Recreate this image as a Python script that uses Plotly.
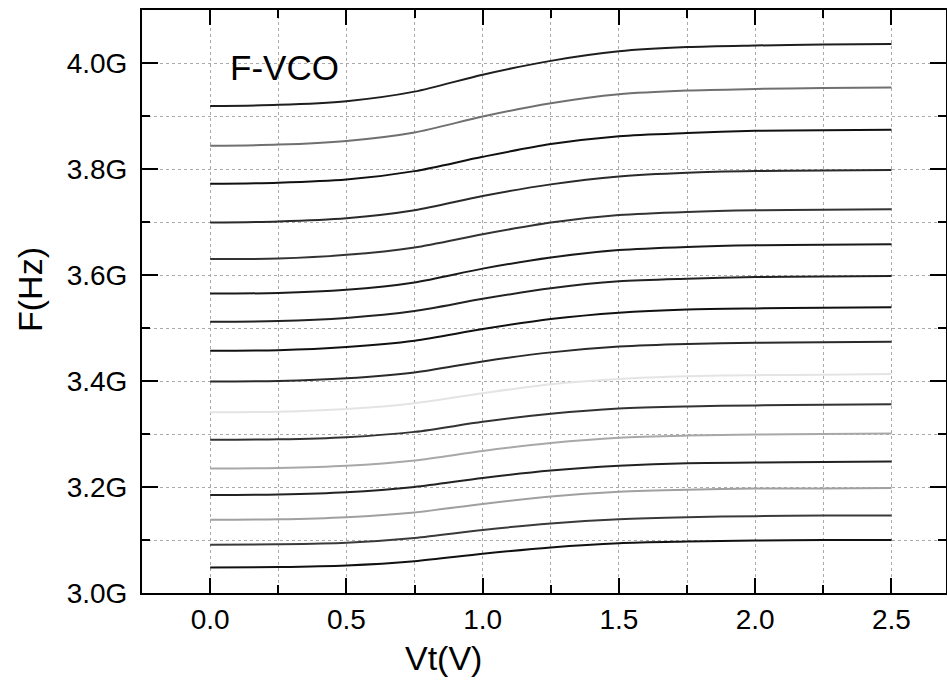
import plotly.graph_objects as go

vt = [0.0, 0.25, 0.5, 0.75, 1.0, 1.25, 1.5, 1.75, 2.0, 2.25, 2.5]

f01 = [3.919, 3.921, 3.928, 3.946, 3.978, 4.004, 4.022, 4.030, 4.033, 4.035, 4.036]
f02 = [3.844, 3.846, 3.853, 3.869, 3.899, 3.924, 3.941, 3.948, 3.951, 3.953, 3.954]
f03 = [3.772, 3.774, 3.780, 3.796, 3.823, 3.847, 3.862, 3.868, 3.872, 3.873, 3.874]
f04 = [3.699, 3.701, 3.707, 3.722, 3.749, 3.771, 3.786, 3.793, 3.796, 3.797, 3.798]
f05 = [3.630, 3.631, 3.638, 3.652, 3.677, 3.699, 3.713, 3.719, 3.722, 3.723, 3.724]
f06 = [3.565, 3.566, 3.572, 3.586, 3.612, 3.633, 3.647, 3.653, 3.656, 3.657, 3.658]
f07 = [3.512, 3.513, 3.519, 3.532, 3.555, 3.575, 3.588, 3.593, 3.596, 3.597, 3.598]
f08 = [3.457, 3.458, 3.464, 3.476, 3.498, 3.517, 3.529, 3.535, 3.537, 3.538, 3.539]
f09 = [3.399, 3.400, 3.405, 3.416, 3.437, 3.454, 3.465, 3.470, 3.472, 3.473, 3.474]
f10 = [3.341, 3.342, 3.347, 3.358, 3.377, 3.394, 3.404, 3.409, 3.411, 3.412, 3.413]
f11 = [3.289, 3.290, 3.294, 3.304, 3.323, 3.338, 3.348, 3.352, 3.354, 3.355, 3.356]
f12 = [3.235, 3.236, 3.240, 3.250, 3.268, 3.283, 3.293, 3.297, 3.299, 3.300, 3.301]
f13 = [3.185, 3.186, 3.190, 3.200, 3.217, 3.231, 3.240, 3.245, 3.246, 3.247, 3.248]
f14 = [3.138, 3.139, 3.143, 3.152, 3.168, 3.182, 3.191, 3.195, 3.197, 3.197, 3.198]
f15 = [3.091, 3.092, 3.095, 3.104, 3.119, 3.131, 3.139, 3.143, 3.145, 3.146, 3.146]
f16 = [3.048, 3.049, 3.052, 3.060, 3.074, 3.086, 3.094, 3.097, 3.099, 3.100, 3.100]

curves = [f01, f02, f03, f04, f05, f06, f07, f08, f09, f10, f11, f12, f13, f14, f15, f16]
colors = ['#1e1e1e', '#707070', '#111111', '#2a2a2a', '#333333', '#1a1a1a', '#222222', '#111111',
          '#2a2a2a', '#e4e4e4', '#333333', '#a8a8a8', '#222222', '#a0a0a0', '#3a3a3a', '#111111']

y_tickvals = [3.0, 3.2, 3.4, 3.6, 3.8, 4.0]
y_ticktext = ['3.0G', '3.2G', '3.4G', '3.6G', '3.8G', '4.0G']
x_tickvals = [0.0, 0.5, 1.0, 1.5, 2.0, 2.5]
x_ticktext = ['0.0', '0.5', '1.0', '1.5', '2.0', '2.5']

fig = go.Figure()
for ys, c in zip(curves, colors):
    fig.add_trace(go.Scatter(x=vt, y=ys, mode='lines',
                             line=dict(color=c, width=2, shape='spline', smoothing=0.8),
                             showlegend=False, hoverinfo='skip'))

font = 'Liberation Sans, Arial, sans-serif'
plot_w = 947 - 142 - 1
plot_h = 683 - 10 - 90

fig.update_layout(
    width=947, height=683, autosize=False,
    margin=dict(l=142, r=1, t=10, b=90, autoexpand=False),
    paper_bgcolor='white', plot_bgcolor='white',
    font=dict(family=font, color='black'),
    xaxis=dict(range=[-0.25, 2.7], tickvals=x_tickvals, ticktext=x_ticktext,
               ticks='inside', ticklen=15, tickwidth=2, tickcolor='black',
               showline=True, linecolor='black', linewidth=2, mirror='allticks',
               showgrid=True, gridcolor='#aaaaaa', griddash='dot', gridwidth=1,
               zeroline=False, tickfont=dict(size=28, family=font),
               ticklabelstandoff=0, automargin=False,
               minor=dict(dtick=0.25, tick0=0, ticks='inside', ticklen=8, tickwidth=2,
                          tickcolor='black', showgrid=True, gridcolor='#aaaaaa',
                          griddash='dot', gridwidth=1)),
    yaxis=dict(range=[3.0, 4.1], tickvals=y_tickvals, ticktext=y_ticktext,
               ticks='inside', ticklen=16, tickwidth=2, tickcolor='black',
               showline=True, linecolor='black', linewidth=2, mirror='allticks',
               showgrid=True, gridcolor='#aaaaaa', griddash='dot', gridwidth=1,
               zeroline=False, tickfont=dict(size=28, family=font),
               ticklabelstandoff=7, automargin=False,
               minor=dict(dtick=0.1, tick0=3.0, ticks='inside', ticklen=8, tickwidth=2,
                          tickcolor='black', showgrid=True, gridcolor='#aaaaaa',
                          griddash='dot', gridwidth=1)),
    annotations=[
        dict(x=0.066, y=3.991, xref='x', yref='y', text='F-VCO', showarrow=False,
             xanchor='left', yanchor='middle', font=dict(size=35, family=font)),
        dict(x=(443 - 142) / plot_w, y=-(658 - 593) / plot_h, xref='paper', yref='paper',
             text='Vt(V)', showarrow=False, xanchor='center', yanchor='middle',
             font=dict(size=34, family=font)),
        dict(x=-(142 - 30) / plot_w, y=(593 - 290) / plot_h, xref='paper', yref='paper',
             text='F(Hz)', showarrow=False, textangle=-90, xanchor='center',
             yanchor='middle', font=dict(size=34, family=font)),
    ],
)

fig.write_html('out.html', config={'responsive': False, 'displayModeBar': False},
               post_script="document.body.style.margin='0';document.body.style.overflow='hidden';")
